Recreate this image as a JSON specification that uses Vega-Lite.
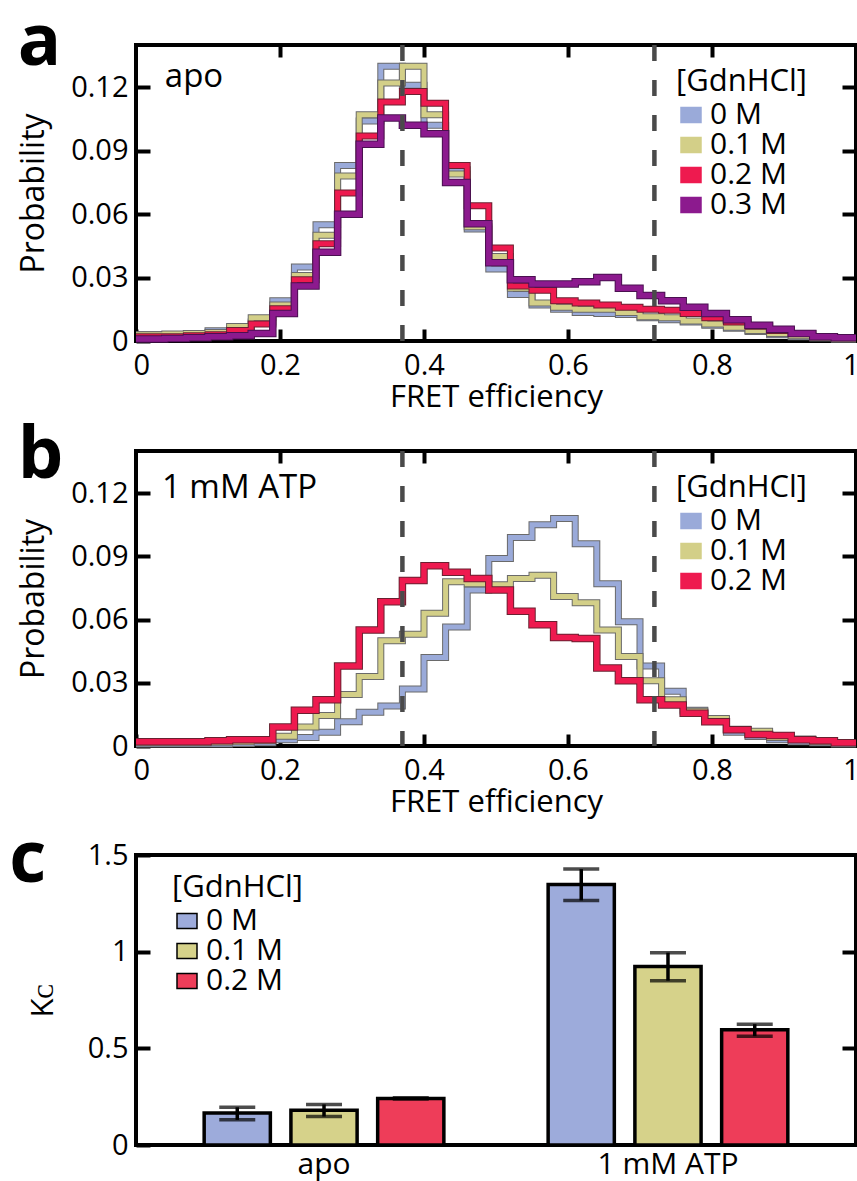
{
  "$schema": "https://vega.github.io/schema/vega-lite/v6.json",
  "background": "white",
  "padding": {"left": 7, "top": 4, "right": 0, "bottom": 0},
  "spacing": 3,
  "datasets": {
    "histA": [
      {"fret":0,"p":0.003,"conc":"0 M"},{"fret":0.01,"p":0.003,"conc":"0 M"},{"fret":0.04,"p":0.003,"conc":"0 M"},{"fret":0.07,"p":0.0035,"conc":"0 M"},{"fret":0.1,"p":0.0048,"conc":"0 M"},{"fret":0.13,"p":0.0055,"conc":"0 M"},{"fret":0.16,"p":0.009,"conc":"0 M"},{"fret":0.19,"p":0.019,"conc":"0 M"},{"fret":0.22,"p":0.035,"conc":"0 M"},{"fret":0.25,"p":0.055,"conc":"0 M"},{"fret":0.28,"p":0.083,"conc":"0 M"},{"fret":0.31,"p":0.104,"conc":"0 M"},{"fret":0.34,"p":0.13,"conc":"0 M"},{"fret":0.37,"p":0.121,"conc":"0 M"},{"fret":0.4,"p":0.102,"conc":"0 M"},{"fret":0.43,"p":0.081,"conc":"0 M"},{"fret":0.46,"p":0.053,"conc":"0 M"},{"fret":0.49,"p":0.034,"conc":"0 M"},{"fret":0.52,"p":0.022,"conc":"0 M"},{"fret":0.55,"p":0.017,"conc":"0 M"},{"fret":0.58,"p":0.015,"conc":"0 M"},{"fret":0.61,"p":0.0135,"conc":"0 M"},{"fret":0.64,"p":0.013,"conc":"0 M"},{"fret":0.67,"p":0.0125,"conc":"0 M"},{"fret":0.7,"p":0.011,"conc":"0 M"},{"fret":0.73,"p":0.01,"conc":"0 M"},{"fret":0.76,"p":0.009,"conc":"0 M"},{"fret":0.79,"p":0.0075,"conc":"0 M"},{"fret":0.82,"p":0.006,"conc":"0 M"},{"fret":0.85,"p":0.0045,"conc":"0 M"},{"fret":0.88,"p":0.003,"conc":"0 M"},{"fret":0.91,"p":0.002,"conc":"0 M"},{"fret":0.94,"p":0.0015,"conc":"0 M"},{"fret":0.97,"p":0.001,"conc":"0 M"},{"fret":1,"p":0.001,"conc":"0 M"},
      {"fret":0,"p":0.003,"conc":"0.1 M"},{"fret":0.01,"p":0.003,"conc":"0.1 M"},{"fret":0.04,"p":0.0033,"conc":"0.1 M"},{"fret":0.07,"p":0.0035,"conc":"0.1 M"},{"fret":0.1,"p":0.004,"conc":"0.1 M"},{"fret":0.13,"p":0.0068,"conc":"0.1 M"},{"fret":0.16,"p":0.011,"conc":"0.1 M"},{"fret":0.19,"p":0.017,"conc":"0.1 M"},{"fret":0.22,"p":0.031,"conc":"0.1 M"},{"fret":0.25,"p":0.05,"conc":"0.1 M"},{"fret":0.28,"p":0.078,"conc":"0.1 M"},{"fret":0.31,"p":0.107,"conc":"0.1 M"},{"fret":0.34,"p":0.122,"conc":"0.1 M"},{"fret":0.37,"p":0.13,"conc":"0.1 M"},{"fret":0.4,"p":0.107,"conc":"0.1 M"},{"fret":0.43,"p":0.079,"conc":"0.1 M"},{"fret":0.46,"p":0.054,"conc":"0.1 M"},{"fret":0.49,"p":0.04,"conc":"0.1 M"},{"fret":0.52,"p":0.025,"conc":"0.1 M"},{"fret":0.55,"p":0.018,"conc":"0.1 M"},{"fret":0.58,"p":0.016,"conc":"0.1 M"},{"fret":0.61,"p":0.015,"conc":"0.1 M"},{"fret":0.64,"p":0.015,"conc":"0.1 M"},{"fret":0.67,"p":0.0135,"conc":"0.1 M"},{"fret":0.7,"p":0.0115,"conc":"0.1 M"},{"fret":0.73,"p":0.011,"conc":"0.1 M"},{"fret":0.76,"p":0.0095,"conc":"0.1 M"},{"fret":0.79,"p":0.008,"conc":"0.1 M"},{"fret":0.82,"p":0.0065,"conc":"0.1 M"},{"fret":0.85,"p":0.005,"conc":"0.1 M"},{"fret":0.88,"p":0.0035,"conc":"0.1 M"},{"fret":0.91,"p":0.0025,"conc":"0.1 M"},{"fret":0.94,"p":0.0015,"conc":"0.1 M"},{"fret":0.97,"p":0.001,"conc":"0.1 M"},{"fret":1,"p":0.001,"conc":"0.1 M"},
      {"fret":0,"p":0.002,"conc":"0.2 M"},{"fret":0.01,"p":0.002,"conc":"0.2 M"},{"fret":0.04,"p":0.002,"conc":"0.2 M"},{"fret":0.07,"p":0.0025,"conc":"0.2 M"},{"fret":0.1,"p":0.003,"conc":"0.2 M"},{"fret":0.13,"p":0.005,"conc":"0.2 M"},{"fret":0.16,"p":0.008,"conc":"0.2 M"},{"fret":0.19,"p":0.0153,"conc":"0.2 M"},{"fret":0.22,"p":0.029,"conc":"0.2 M"},{"fret":0.25,"p":0.046,"conc":"0.2 M"},{"fret":0.28,"p":0.07,"conc":"0.2 M"},{"fret":0.31,"p":0.097,"conc":"0.2 M"},{"fret":0.34,"p":0.113,"conc":"0.2 M"},{"fret":0.37,"p":0.118,"conc":"0.2 M"},{"fret":0.4,"p":0.1125,"conc":"0.2 M"},{"fret":0.43,"p":0.083,"conc":"0.2 M"},{"fret":0.46,"p":0.064,"conc":"0.2 M"},{"fret":0.49,"p":0.044,"conc":"0.2 M"},{"fret":0.52,"p":0.026,"conc":"0.2 M"},{"fret":0.55,"p":0.024,"conc":"0.2 M"},{"fret":0.58,"p":0.019,"conc":"0.2 M"},{"fret":0.61,"p":0.018,"conc":"0.2 M"},{"fret":0.64,"p":0.017,"conc":"0.2 M"},{"fret":0.67,"p":0.016,"conc":"0.2 M"},{"fret":0.7,"p":0.015,"conc":"0.2 M"},{"fret":0.73,"p":0.0145,"conc":"0.2 M"},{"fret":0.76,"p":0.013,"conc":"0.2 M"},{"fret":0.79,"p":0.011,"conc":"0.2 M"},{"fret":0.82,"p":0.009,"conc":"0.2 M"},{"fret":0.85,"p":0.007,"conc":"0.2 M"},{"fret":0.88,"p":0.005,"conc":"0.2 M"},{"fret":0.91,"p":0.0035,"conc":"0.2 M"},{"fret":0.94,"p":0.002,"conc":"0.2 M"},{"fret":0.97,"p":0.0015,"conc":"0.2 M"},{"fret":1,"p":0.0015,"conc":"0.2 M"},
      {"fret":0,"p":0.001,"conc":"0.3 M"},{"fret":0.01,"p":0.001,"conc":"0.3 M"},{"fret":0.04,"p":0.0012,"conc":"0.3 M"},{"fret":0.07,"p":0.0015,"conc":"0.3 M"},{"fret":0.1,"p":0.002,"conc":"0.3 M"},{"fret":0.13,"p":0.0025,"conc":"0.3 M"},{"fret":0.16,"p":0.0035,"conc":"0.3 M"},{"fret":0.19,"p":0.013,"conc":"0.3 M"},{"fret":0.22,"p":0.026,"conc":"0.3 M"},{"fret":0.25,"p":0.042,"conc":"0.3 M"},{"fret":0.28,"p":0.06,"conc":"0.3 M"},{"fret":0.31,"p":0.093,"conc":"0.3 M"},{"fret":0.34,"p":0.1055,"conc":"0.3 M"},{"fret":0.37,"p":0.102,"conc":"0.3 M"},{"fret":0.4,"p":0.098,"conc":"0.3 M"},{"fret":0.43,"p":0.075,"conc":"0.3 M"},{"fret":0.46,"p":0.0555,"conc":"0.3 M"},{"fret":0.49,"p":0.037,"conc":"0.3 M"},{"fret":0.52,"p":0.029,"conc":"0.3 M"},{"fret":0.55,"p":0.027,"conc":"0.3 M"},{"fret":0.58,"p":0.027,"conc":"0.3 M"},{"fret":0.61,"p":0.028,"conc":"0.3 M"},{"fret":0.64,"p":0.03,"conc":"0.3 M"},{"fret":0.67,"p":0.025,"conc":"0.3 M"},{"fret":0.7,"p":0.0215,"conc":"0.3 M"},{"fret":0.73,"p":0.019,"conc":"0.3 M"},{"fret":0.76,"p":0.016,"conc":"0.3 M"},{"fret":0.79,"p":0.013,"conc":"0.3 M"},{"fret":0.82,"p":0.01,"conc":"0.3 M"},{"fret":0.85,"p":0.0075,"conc":"0.3 M"},{"fret":0.88,"p":0.0055,"conc":"0.3 M"},{"fret":0.91,"p":0.0035,"conc":"0.3 M"},{"fret":0.94,"p":0.002,"conc":"0.3 M"},{"fret":0.97,"p":0.0015,"conc":"0.3 M"},{"fret":1,"p":0.0015,"conc":"0.3 M"}
    ],
    "histB": [
      {"fret":0,"p":0.001,"conc":"0 M"},{"fret":0.01,"p":0.001,"conc":"0 M"},{"fret":0.04,"p":0.001,"conc":"0 M"},{"fret":0.07,"p":0.001,"conc":"0 M"},{"fret":0.1,"p":0.001,"conc":"0 M"},{"fret":0.13,"p":0.0012,"conc":"0 M"},{"fret":0.16,"p":0.0015,"conc":"0 M"},{"fret":0.19,"p":0.003,"conc":"0 M"},{"fret":0.22,"p":0.004,"conc":"0 M"},{"fret":0.25,"p":0.0065,"conc":"0 M"},{"fret":0.28,"p":0.0115,"conc":"0 M"},{"fret":0.31,"p":0.016,"conc":"0 M"},{"fret":0.34,"p":0.019,"conc":"0 M"},{"fret":0.37,"p":0.027,"conc":"0 M"},{"fret":0.4,"p":0.042,"conc":"0 M"},{"fret":0.43,"p":0.0565,"conc":"0 M"},{"fret":0.46,"p":0.074,"conc":"0 M"},{"fret":0.49,"p":0.089,"conc":"0 M"},{"fret":0.52,"p":0.099,"conc":"0 M"},{"fret":0.55,"p":0.105,"conc":"0 M"},{"fret":0.58,"p":0.108,"conc":"0 M"},{"fret":0.61,"p":0.096,"conc":"0 M"},{"fret":0.64,"p":0.077,"conc":"0 M"},{"fret":0.67,"p":0.059,"conc":"0 M"},{"fret":0.7,"p":0.038,"conc":"0 M"},{"fret":0.73,"p":0.026,"conc":"0 M"},{"fret":0.76,"p":0.017,"conc":"0 M"},{"fret":0.79,"p":0.0125,"conc":"0 M"},{"fret":0.82,"p":0.0065,"conc":"0 M"},{"fret":0.85,"p":0.0045,"conc":"0 M"},{"fret":0.88,"p":0.003,"conc":"0 M"},{"fret":0.91,"p":0.002,"conc":"0 M"},{"fret":0.94,"p":0.0015,"conc":"0 M"},{"fret":0.97,"p":0.001,"conc":"0 M"},{"fret":1,"p":0.001,"conc":"0 M"},
      {"fret":0,"p":0.0015,"conc":"0.1 M"},{"fret":0.01,"p":0.0015,"conc":"0.1 M"},{"fret":0.04,"p":0.0015,"conc":"0.1 M"},{"fret":0.07,"p":0.0015,"conc":"0.1 M"},{"fret":0.1,"p":0.0018,"conc":"0.1 M"},{"fret":0.13,"p":0.002,"conc":"0.1 M"},{"fret":0.16,"p":0.0025,"conc":"0.1 M"},{"fret":0.19,"p":0.0046,"conc":"0.1 M"},{"fret":0.22,"p":0.009,"conc":"0.1 M"},{"fret":0.25,"p":0.0145,"conc":"0.1 M"},{"fret":0.28,"p":0.0245,"conc":"0.1 M"},{"fret":0.31,"p":0.033,"conc":"0.1 M"},{"fret":0.34,"p":0.05,"conc":"0.1 M"},{"fret":0.37,"p":0.053,"conc":"0.1 M"},{"fret":0.4,"p":0.063,"conc":"0.1 M"},{"fret":0.43,"p":0.078,"conc":"0.1 M"},{"fret":0.46,"p":0.077,"conc":"0.1 M"},{"fret":0.49,"p":0.0765,"conc":"0.1 M"},{"fret":0.52,"p":0.0795,"conc":"0.1 M"},{"fret":0.55,"p":0.081,"conc":"0.1 M"},{"fret":0.58,"p":0.071,"conc":"0.1 M"},{"fret":0.61,"p":0.068,"conc":"0.1 M"},{"fret":0.64,"p":0.055,"conc":"0.1 M"},{"fret":0.67,"p":0.0425,"conc":"0.1 M"},{"fret":0.7,"p":0.031,"conc":"0.1 M"},{"fret":0.73,"p":0.022,"conc":"0.1 M"},{"fret":0.76,"p":0.0165,"conc":"0.1 M"},{"fret":0.79,"p":0.013,"conc":"0.1 M"},{"fret":0.82,"p":0.008,"conc":"0.1 M"},{"fret":0.85,"p":0.007,"conc":"0.1 M"},{"fret":0.88,"p":0.004,"conc":"0.1 M"},{"fret":0.91,"p":0.0033,"conc":"0.1 M"},{"fret":0.94,"p":0.002,"conc":"0.1 M"},{"fret":0.97,"p":0.0015,"conc":"0.1 M"},{"fret":1,"p":0.0015,"conc":"0.1 M"},
      {"fret":0,"p":0.002,"conc":"0.2 M"},{"fret":0.01,"p":0.002,"conc":"0.2 M"},{"fret":0.04,"p":0.002,"conc":"0.2 M"},{"fret":0.07,"p":0.002,"conc":"0.2 M"},{"fret":0.1,"p":0.0025,"conc":"0.2 M"},{"fret":0.13,"p":0.003,"conc":"0.2 M"},{"fret":0.16,"p":0.003,"conc":"0.2 M"},{"fret":0.19,"p":0.009,"conc":"0.2 M"},{"fret":0.22,"p":0.017,"conc":"0.2 M"},{"fret":0.25,"p":0.022,"conc":"0.2 M"},{"fret":0.28,"p":0.038,"conc":"0.2 M"},{"fret":0.31,"p":0.055,"conc":"0.2 M"},{"fret":0.34,"p":0.0685,"conc":"0.2 M"},{"fret":0.37,"p":0.0785,"conc":"0.2 M"},{"fret":0.4,"p":0.0855,"conc":"0.2 M"},{"fret":0.43,"p":0.0825,"conc":"0.2 M"},{"fret":0.46,"p":0.0795,"conc":"0.2 M"},{"fret":0.49,"p":0.074,"conc":"0.2 M"},{"fret":0.52,"p":0.064,"conc":"0.2 M"},{"fret":0.55,"p":0.0575,"conc":"0.2 M"},{"fret":0.58,"p":0.0515,"conc":"0.2 M"},{"fret":0.61,"p":0.051,"conc":"0.2 M"},{"fret":0.64,"p":0.037,"conc":"0.2 M"},{"fret":0.67,"p":0.031,"conc":"0.2 M"},{"fret":0.7,"p":0.022,"conc":"0.2 M"},{"fret":0.73,"p":0.0195,"conc":"0.2 M"},{"fret":0.76,"p":0.0155,"conc":"0.2 M"},{"fret":0.79,"p":0.0115,"conc":"0.2 M"},{"fret":0.82,"p":0.0077,"conc":"0.2 M"},{"fret":0.85,"p":0.0055,"conc":"0.2 M"},{"fret":0.88,"p":0.005,"conc":"0.2 M"},{"fret":0.91,"p":0.003,"conc":"0.2 M"},{"fret":0.94,"p":0.0025,"conc":"0.2 M"},{"fret":0.97,"p":0.0015,"conc":"0.2 M"},{"fret":1,"p":0.0015,"conc":"0.2 M"}
    ],
    "kc": [
      {"group":"apo","conc":"0 M","kc":0.165,"lo":0.13,"hi":0.195},
      {"group":"apo","conc":"0.1 M","kc":0.18,"lo":0.147,"hi":0.21},
      {"group":"apo","conc":"0.2 M","kc":0.241,"lo":0.238,"hi":0.244},
      {"group":"1 mM ATP","conc":"0 M","kc":1.347,"lo":1.265,"hi":1.427},
      {"group":"1 mM ATP","conc":"0.1 M","kc":0.923,"lo":0.85,"hi":0.995},
      {"group":"1 mM ATP","conc":"0.2 M","kc":0.596,"lo":0.563,"hi":0.625}
    ]
  },
  "resolve": {"scale": {"color": "independent"}, "legend": {"color": "independent"}},
  "vconcat": [
    {
      "width": 720, "height": 296,
      "title": {"text": "a", "offset": 0, "dy": 37},
      "data": {"name": "histA"},
      "layer": [
        {"transform": [{"filter": "datum.conc === '0 M'"}], "mark": {"type": "line", "interpolate": "step-after", "color": "#6a6a6a", "strokeWidth": 7, "strokeJoin": "miter"},
         "encoding": {
           "x": {"field": "fret", "type": "quantitative", "scale": {"domain": [0, 1], "nice": false, "zero": false}, "axis": {"orient": "bottom", "values": [0, 0.2, 0.4, 0.6, 0.8, 1], "format": "~g", "title": "FRET efficiency", "tickSize": -12, "labelPadding": 22, "titlePadding": 2, "labelFlush": true, "labelFlushOffset": 3}},
           "y": {"field": "p", "type": "quantitative", "scale": {"domain": [0, 0.14], "nice": false}, "axis": {"orient": "left", "values": [0, 0.03, 0.06, 0.09, 0.12], "format": "~g", "title": "Probability", "tickSize": -14, "labelPadding": 22, "titlePadding": 20, "titleFontSize": 32}}}},
        {"transform": [{"filter": "datum.conc === '0 M'"}], "mark": {"type": "line", "interpolate": "step-after", "strokeWidth": 5, "strokeJoin": "miter"},
         "encoding": {"x": {"field": "fret", "type": "quantitative", "axis": null}, "y": {"field": "p", "type": "quantitative", "axis": null},
           "color": {"field": "conc", "type": "nominal", "scale": {"domain": ["0 M", "0.1 M", "0.2 M", "0.3 M"], "range": ["#9aaad9", "#d3cf88", "#ee1a4f", "#8c1a8e"]},
             "legend": {"orient": "none", "legendX": 540, "legendY": 22, "title": "[GdnHCl]", "symbolType": "M-1,-0.75H1V0.75H-1Z", "symbolSize": 400, "labelFontSize": 30, "titleFontSize": 31, "rowPadding": -6, "labelOffset": 4, "titlePadding": 2, "padding": 0,
               "encode": {"symbols": {"update": {"fill": [{"test": "datum.label === '0 M'", "value": "#9aaad9"}, {"test": "datum.label === '0.1 M'", "value": "#d3cf88"}, {"test": "datum.label === '0.2 M'", "value": "#ee1a4f"}, {"value": "#8c1a8e"}], "stroke": {"value": "#4d4d4d"}, "strokeWidth": {"value": 1.5}, "fillOpacity": {"value": 1}, "opacity": {"value": 1}}}}}}}},
        {"transform": [{"filter": "datum.conc === '0.1 M'"}], "mark": {"type": "line", "interpolate": "step-after", "color": "#6a6a6a", "strokeWidth": 7, "strokeJoin": "miter"},
         "encoding": {"x": {"field": "fret", "type": "quantitative", "axis": null}, "y": {"field": "p", "type": "quantitative", "axis": null}}},
        {"transform": [{"filter": "datum.conc === '0.1 M'"}], "mark": {"type": "line", "interpolate": "step-after", "strokeWidth": 5, "strokeJoin": "miter"},
         "encoding": {"x": {"field": "fret", "type": "quantitative", "axis": null}, "y": {"field": "p", "type": "quantitative", "axis": null}, "color": {"field": "conc", "type": "nominal", "legend": null}}},
        {"transform": [{"filter": "datum.conc === '0.2 M'"}], "mark": {"type": "line", "interpolate": "step-after", "color": "#6a2030", "strokeWidth": 7, "strokeJoin": "miter"},
         "encoding": {"x": {"field": "fret", "type": "quantitative", "axis": null}, "y": {"field": "p", "type": "quantitative", "axis": null}}},
        {"transform": [{"filter": "datum.conc === '0.2 M'"}], "mark": {"type": "line", "interpolate": "step-after", "strokeWidth": 5, "strokeJoin": "miter"},
         "encoding": {"x": {"field": "fret", "type": "quantitative", "axis": null}, "y": {"field": "p", "type": "quantitative", "axis": null}, "color": {"field": "conc", "type": "nominal", "legend": null}}},
        {"transform": [{"filter": "datum.conc === '0.3 M'"}], "mark": {"type": "line", "interpolate": "step-after", "color": "#4a1050", "strokeWidth": 7.5, "strokeJoin": "miter"},
         "encoding": {"x": {"field": "fret", "type": "quantitative", "axis": null}, "y": {"field": "p", "type": "quantitative", "axis": null}}},
        {"transform": [{"filter": "datum.conc === '0.3 M'"}], "mark": {"type": "line", "interpolate": "step-after", "strokeWidth": 5.5, "strokeJoin": "miter"},
         "encoding": {"x": {"field": "fret", "type": "quantitative", "axis": null}, "y": {"field": "p", "type": "quantitative", "axis": null}, "color": {"field": "conc", "type": "nominal", "legend": null}}},
        {"data": {"values": [{"x": 0.37}, {"x": 0.72}]}, "mark": {"type": "rule", "strokeDash": [16, 19], "color": "#4a4a4a", "strokeWidth": 4.5},
         "encoding": {"x": {"field": "x", "type": "quantitative", "axis": {"orient": "top", "values": [0.2, 0.4, 0.6, 0.8], "labels": false, "title": null, "tickSize": -12}}}},
        {"data": {"values": [{"x": 0.04, "y": 0.12, "label": "apo"}]}, "mark": {"type": "text", "align": "left", "baseline": "alphabetic", "fontSize": 33, "font": "Open Sans", "color": "black"},
         "encoding": {"x": {"field": "x", "type": "quantitative", "axis": null}, "y": {"field": "y", "type": "quantitative", "axis": {"orient": "right", "values": [0.03, 0.06, 0.09, 0.12], "labels": false, "title": null, "tickSize": -14}}, "text": {"field": "label"}}}
      ]
    },
    {
      "width": 720, "height": 295,
      "title": {"text": "b", "offset": 0, "dy": 44},
      "data": {"name": "histB"},
      "layer": [
        {"transform": [{"filter": "datum.conc === '0 M'"}], "mark": {"type": "line", "interpolate": "step-after", "color": "#6a6a6a", "strokeWidth": 7, "strokeJoin": "miter"},
         "encoding": {
           "x": {"field": "fret", "type": "quantitative", "scale": {"domain": [0, 1], "nice": false, "zero": false}, "axis": {"orient": "bottom", "values": [0, 0.2, 0.4, 0.6, 0.8, 1], "format": "~g", "title": "FRET efficiency", "tickSize": -12, "labelPadding": 22, "titlePadding": 2, "labelFlush": true, "labelFlushOffset": 3}},
           "y": {"field": "p", "type": "quantitative", "scale": {"domain": [0, 0.14], "nice": false}, "axis": {"orient": "left", "values": [0, 0.03, 0.06, 0.09, 0.12], "format": "~g", "title": "Probability", "tickSize": -14, "labelPadding": 22, "titlePadding": 20, "titleFontSize": 32}}}},
        {"transform": [{"filter": "datum.conc === '0 M'"}], "mark": {"type": "line", "interpolate": "step-after", "strokeWidth": 5, "strokeJoin": "miter"},
         "encoding": {"x": {"field": "fret", "type": "quantitative", "axis": null}, "y": {"field": "p", "type": "quantitative", "axis": null},
           "color": {"field": "conc", "type": "nominal", "scale": {"domain": ["0 M", "0.1 M", "0.2 M"], "range": ["#9aaad9", "#d3cf88", "#ee1a4f"]},
             "legend": {"orient": "none", "legendX": 540, "legendY": 22, "title": "[GdnHCl]", "symbolType": "M-1,-0.75H1V0.75H-1Z", "symbolSize": 400, "labelFontSize": 30, "titleFontSize": 31, "rowPadding": -6, "labelOffset": 4, "titlePadding": 2, "padding": 0,
               "encode": {"symbols": {"update": {"fill": [{"test": "datum.label === '0 M'", "value": "#9aaad9"}, {"test": "datum.label === '0.1 M'", "value": "#d3cf88"}, {"value": "#ee1a4f"}], "stroke": {"value": "#4d4d4d"}, "strokeWidth": {"value": 1.5}, "fillOpacity": {"value": 1}, "opacity": {"value": 1}}}}}}}},
        {"transform": [{"filter": "datum.conc === '0.1 M'"}], "mark": {"type": "line", "interpolate": "step-after", "color": "#6a6a6a", "strokeWidth": 7, "strokeJoin": "miter"},
         "encoding": {"x": {"field": "fret", "type": "quantitative", "axis": null}, "y": {"field": "p", "type": "quantitative", "axis": null}}},
        {"transform": [{"filter": "datum.conc === '0.1 M'"}], "mark": {"type": "line", "interpolate": "step-after", "strokeWidth": 5, "strokeJoin": "miter"},
         "encoding": {"x": {"field": "fret", "type": "quantitative", "axis": null}, "y": {"field": "p", "type": "quantitative", "axis": null}, "color": {"field": "conc", "type": "nominal", "legend": null}}},
        {"transform": [{"filter": "datum.conc === '0.2 M'"}], "mark": {"type": "line", "interpolate": "step-after", "color": "#6a2030", "strokeWidth": 7.5, "strokeJoin": "miter"},
         "encoding": {"x": {"field": "fret", "type": "quantitative", "axis": null}, "y": {"field": "p", "type": "quantitative", "axis": null}}},
        {"transform": [{"filter": "datum.conc === '0.2 M'"}], "mark": {"type": "line", "interpolate": "step-after", "strokeWidth": 5.5, "strokeJoin": "miter"},
         "encoding": {"x": {"field": "fret", "type": "quantitative", "axis": null}, "y": {"field": "p", "type": "quantitative", "axis": null}, "color": {"field": "conc", "type": "nominal", "legend": null}}},
        {"data": {"values": [{"x": 0.37}, {"x": 0.72}]}, "mark": {"type": "rule", "strokeDash": [16, 19], "color": "#4a4a4a", "strokeWidth": 4.5},
         "encoding": {"x": {"field": "x", "type": "quantitative", "axis": {"orient": "top", "values": [0.2, 0.4, 0.6, 0.8], "labels": false, "title": null, "tickSize": -12}}}},
        {"data": {"values": [{"x": 0.036, "y": 0.1175, "label": "1 mM ATP"}]}, "mark": {"type": "text", "align": "left", "baseline": "alphabetic", "fontSize": 33, "font": "Open Sans", "color": "black"},
         "encoding": {"x": {"field": "x", "type": "quantitative", "axis": null}, "y": {"field": "y", "type": "quantitative", "axis": {"orient": "right", "values": [0.03, 0.06, 0.09, 0.12], "labels": false, "title": null, "tickSize": -14}}, "text": {"field": "label"}}}
      ]
    },
    {
      "width": 720, "height": 290,
      "title": {"text": "c", "offset": 0, "dy": 56, "dx": -18},
      "data": {"name": "kc"},
      "layer": [
        {"mark": {"type": "bar", "stroke": "black", "strokeWidth": 3.5},
         "encoding": {
           "x": {"field": "group", "type": "nominal", "sort": ["apo", "1 mM ATP"], "scale": {"paddingInner": 0, "paddingOuter": 0.0466}, "axis": {"orient": "bottom", "title": null, "labelAngle": 0, "ticks": false, "labelPadding": 4, "labelFontSize": 30, "labelLimit": 400, "labels": true}},
           "xOffset": {"field": "conc", "type": "nominal", "sort": ["0 M", "0.1 M", "0.2 M"], "scale": {"paddingInner": 0.237, "paddingOuter": 0.601}},
           "y": {"field": "kc", "type": "quantitative", "scale": {"domain": [0, 1.5], "nice": false}, "axis": {"orient": "left", "values": [0, 0.5, 1, 1.5], "format": "~g", "title": "Kᴄ", "tickSize": -14, "labelPadding": 22, "titlePadding": 28}},
           "color": {"field": "conc", "type": "nominal", "scale": {"domain": ["0 M", "0.1 M", "0.2 M"], "range": ["#9dabdb", "#d6d28a", "#ee3d59"]},
             "legend": {"orient": "none", "legendX": 36, "legendY": 18, "title": "[GdnHCl]", "symbolType": "M-1,-0.75H1V0.75H-1Z", "symbolSize": 400, "labelFontSize": 30, "titleFontSize": 31, "rowPadding": -6, "labelOffset": 4, "titlePadding": 2, "padding": 0,
               "encode": {"symbols": {"update": {"stroke": {"value": "#3a3a3a"}, "strokeWidth": {"value": 1.5}, "fillOpacity": {"value": 1}, "opacity": {"value": 1}}}}}}}},
        {"mark": {"type": "rule", "color": "black", "strokeWidth": 3.5},
         "encoding": {
           "x": {"field": "group", "type": "nominal", "sort": ["apo", "1 mM ATP"], "axis": {"orient": "bottom", "title": null, "labelAngle": 0, "ticks": false, "labelPadding": 4, "labelFontSize": 30, "labelLimit": 400, "labels": true}},
           "xOffset": {"field": "conc", "type": "nominal", "sort": ["0 M", "0.1 M", "0.2 M"]},
           "y": {"field": "lo", "type": "quantitative", "axis": null}, "y2": {"field": "hi"}}},
        {"mark": {"type": "tick", "color": "black", "thickness": 3.5, "size": 36, "orient": "horizontal"},
         "encoding": {
           "x": {"field": "group", "type": "nominal", "sort": ["apo", "1 mM ATP"], "axis": {"orient": "bottom", "title": null, "labelAngle": 0, "ticks": false, "labelPadding": 4, "labelFontSize": 30, "labelLimit": 400, "labels": true}},
           "xOffset": {"field": "conc", "type": "nominal", "sort": ["0 M", "0.1 M", "0.2 M"]},
           "y": {"field": "hi", "type": "quantitative", "axis": {"orient": "right", "values": [0.5, 1], "labels": false, "title": null, "tickSize": -14}}}},
        {"mark": {"type": "tick", "color": "black", "thickness": 3.5, "size": 36, "orient": "horizontal"},
         "encoding": {
           "x": {"field": "group", "type": "nominal", "sort": ["apo", "1 mM ATP"], "axis": {"orient": "bottom", "title": null, "labelAngle": 0, "ticks": false, "labelPadding": 4, "labelFontSize": 30, "labelLimit": 400, "labels": true}},
           "xOffset": {"field": "conc", "type": "nominal", "sort": ["0 M", "0.1 M", "0.2 M"]},
           "y": {"field": "lo", "type": "quantitative", "axis": null}}}
      ]
    }
  ],
  "config": {
    "font": "Open Sans",
    "view": {"stroke": "black", "strokeWidth": 4},
    "axis": {"domain": false, "grid": false, "tickColor": "black", "tickWidth": 4, "labelColor": "black", "titleColor": "black", "labelFont": "Open Sans", "titleFont": "Open Sans", "labelFontSize": 29, "titleFontSize": 31, "titleFontWeight": "normal", "labelOverlap": false, "labelFlush": false},
    "legend": {"labelColor": "black", "titleColor": "black", "titleFontWeight": "normal", "labelFont": "Open Sans", "titleFont": "Open Sans"},
    "title": {"fontSize": 72, "fontWeight": "bold", "anchor": "start", "frame": "bounds", "color": "black", "font": "Open Sans"}
  }
}
